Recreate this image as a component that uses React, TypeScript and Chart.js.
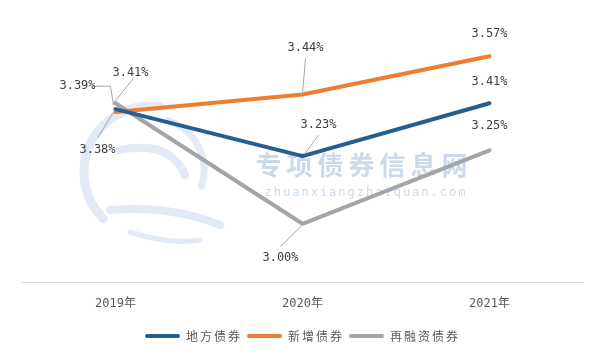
import React, { useEffect, useRef } from 'react';
import { Chart, registerables } from 'chart.js';

Chart.register(...registerables);

const categories = ['2019年', '2020年', '2021年'];
const seriesNames = ['地方债券', '新增债券', '再融资债券'];
const localBondRates = [3.39, 3.23, 3.41];
const newBondRates = [3.38, 3.44, 3.57];
const refinancingBondRates = [3.41, 3.0, 3.25];

const seriesColors = ['#255E91', '#ED7D31', '#A5A5A5'];
const Y_MIN = 2.8;
const Y_MAX = 3.7;

type LabelPlacement = { dx: number; dy: number; leader?: number[][] };
// label offsets relative to each point (pixels), with optional leader line
const labelPlacements: LabelPlacement[][] = [
  [
    { dx: -38, dy: -23, leader: [[-22, -23], [-5, -23], [-2, -4]] },
    { dx: 16, dy: -31, leader: [[16, -21], [2, -2]] },
    { dx: 0, dy: -21 },
  ],
  [
    { dx: -18, dy: 38, leader: [[-18, 26], [-2, 0]] },
    { dx: 3, dy: -47, leader: [[3, -36], [0, -1]] },
    { dx: 0, dy: -22 },
  ],
  [
    { dx: 15, dy: -30, leader: [[18, -25], [-2, 0]] },
    { dx: -22, dy: 34, leader: [[-22, 23], [-1, 2]] },
    { dx: 0, dy: -24 },
  ],
];

const MONO = '"DejaVu Sans Mono", "Noto Sans CJK SC", sans-serif';
const CJK = '"Noto Sans CJK SC", sans-serif';

function withSpacing(obj: any, name: string, spacing: string) {
  const orig = obj[name].bind(obj);
  obj[name] = (...args: any[]) => {
    const ctx = obj.ctx as any;
    const prev = ctx.letterSpacing;
    ctx.letterSpacing = spacing;
    try {
      return orig(...args);
    } finally {
      ctx.letterSpacing = prev;
    }
  };
}

const legendSpacingPlugin = {
  id: 'legendSpacing',
  afterInit(chart: any) {
    if (chart.legend) {
      withSpacing(chart.legend, 'fit', '2px');
      withSpacing(chart.legend, 'draw', '2px');
    }
  },
};

const watermarkPlugin = {
  id: 'watermark',
  beforeDatasetsDraw(chart: any) {
    const ctx = chart.ctx as any;
    ctx.save();
    // faint swirl logo
    ctx.strokeStyle = 'rgba(200, 216, 236, 0.55)';
    ctx.lineCap = 'round';
    ctx.lineWidth = 9;
    ctx.beginPath();
    ctx.arc(150, 172, 66, Math.PI * 0.75, Math.PI * 1.55);
    ctx.stroke();
    ctx.lineWidth = 7;
    ctx.beginPath();
    ctx.arc(152, 170, 52, Math.PI * 1.6, Math.PI * 2.1);
    ctx.stroke();
    ctx.lineWidth = 8;
    ctx.beginPath();
    ctx.moveTo(120, 150);
    ctx.quadraticCurveTo(170, 140, 185, 175);
    ctx.stroke();
    ctx.beginPath();
    ctx.moveTo(110, 210);
    ctx.quadraticCurveTo(170, 205, 220, 225);
    ctx.stroke();
    ctx.lineWidth = 5;
    ctx.beginPath();
    ctx.moveTo(130, 232);
    ctx.quadraticCurveTo(170, 245, 200, 240);
    ctx.stroke();

    ctx.fillStyle = 'rgba(180, 202, 228, 0.7)';
    ctx.textAlign = 'center';
    ctx.textBaseline = 'middle';
    ctx.font = `bold 26px ${CJK}`;
    ctx.letterSpacing = '5px';
    ctx.fillText('专项债券信息网', 364, 165);
    ctx.font = `12px ${MONO}`;
    ctx.letterSpacing = '2px';
    ctx.fillText('zhuanxiangzhaiquan.com', 366, 193);
    ctx.restore();
  },
};

const dataLabelPlugin = {
  id: 'dataLabels',
  afterDatasetsDraw(chart: any) {
    const ctx = chart.ctx;
    ctx.save();
    chart.data.datasets.forEach((ds: any, di: number) => {
      const meta = chart.getDatasetMeta(di);
      meta.data.forEach((pt: any, i: number) => {
        const p = labelPlacements[di][i];
        const x = pt.x;
        const y = pt.y;
        if (p.leader) {
          ctx.beginPath();
          ctx.strokeStyle = '#A6A6A6';
          ctx.lineWidth = 1;
          p.leader.forEach(([lx, ly], k) => {
            if (k === 0) ctx.moveTo(x + lx, y + ly);
            else ctx.lineTo(x + lx, y + ly);
          });
          ctx.stroke();
        }
        ctx.font = `12px ${MONO}`;
        ctx.fillStyle = '#404040';
        ctx.textAlign = 'center';
        ctx.textBaseline = 'middle';
        ctx.fillText(`${Number(ds.data[i]).toFixed(2)}%`, x + p.dx, y + p.dy);
      });
    });
    ctx.restore();
  },
};

export default function App() {
  const ref = useRef<HTMLCanvasElement>(null);
  useEffect(() => {
    document.body.style.margin = '0';
    const seriesValues = [localBondRates, newBondRates, refinancingBondRates];
    const chart = new Chart(ref.current as HTMLCanvasElement, {
      type: 'line',
      data: {
        labels: categories,
        datasets: seriesValues.map((vals, i) => ({
          label: seriesNames[i],
          data: vals,
          borderColor: seriesColors[i],
          backgroundColor: seriesColors[i],
          borderWidth: 4,
          borderCapStyle: 'round' as const,
          borderJoinStyle: 'round' as const,
          pointRadius: 0,
          pointHoverRadius: 0,
          tension: 0,
        })),
      },
      options: {
        responsive: false,
        animation: false,
        devicePixelRatio: 1,
        layout: { padding: { top: 18, left: 22, right: 25, bottom: 9 } },
        scales: {
          x: {
            offset: true,
            grid: { display: false, drawTicks: false },
            border: { display: true, color: '#D9D9D9', width: 1 },
            ticks: {
              padding: 14,
              color: '#595959',
              font: { family: MONO, size: 12, lineHeight: 1.2 },
            },
          },
          y: {
            display: false,
            min: Y_MIN,
            max: Y_MAX,
          },
        },
        plugins: {
          tooltip: { enabled: false },
          legend: {
            position: 'bottom',
            labels: {
              boxWidth: 35,
              boxHeight: 4,
              padding: 5,
              color: '#595959',
              useBorderRadius: true,
              borderRadius: 2,
              font: { family: CJK, size: 12 },
              generateLabels: (c: any) =>
                Chart.defaults.plugins.legend.labels
                  .generateLabels(c)
                  .map((l: any) => ({ ...l, lineWidth: 0 })),
            },
          },
        },
      },
      plugins: [legendSpacingPlugin, watermarkPlugin, dataLabelPlugin],
    });
    return () => chart.destroy();
  }, []);
  return (
    <div style={{ width: 608, height: 361, background: '#fff' }}>
      <canvas ref={ref} width={608} height={361} style={{ display: 'block' }} />
    </div>
  );
}
